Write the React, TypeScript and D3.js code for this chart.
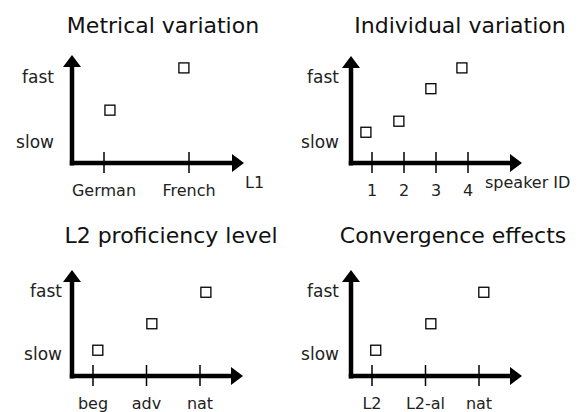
import React from 'react'
import * as d3 from 'd3'

// panel titles
const titles = ['Metrical variation', 'Individual variation', 'L2 proficiency level', 'Convergence effects']

// x categories per panel
const metricalCats = ['German', 'French']
const individualCats = ['1', '2', '3', '4']
const proficiencyCats = ['beg', 'adv', 'nat']
const convergenceCats = ['L2', 'L2-al', 'nat']

// x axis titles
const xTitles = ['L1', 'speaker ID', '', '']

// marker position along the category axis (category index, slightly off the tick)
const metricalPos = [0.07, 0.94]
const individualPos = [-0.19, 0.84, 1.84, 2.81]
const proficiencyPos = [0.09, 1.1, 2.11]
const convergencePos = [0.07, 1.1, 2.09]

// speech rate: 0 = slow, 1 = fast
const metricalSpeed = [0.49, 1.14]
const individualSpeed = [0.15, 0.32, 0.82, 1.14]
const proficiencySpeed = [0.06, 0.48, 0.98]
const convergenceSpeed = [0.06, 0.48, 0.98]

const speedLabels = ['slow', 'fast']

const FONT = '"DejaVu Sans", Verdana, sans-serif'

interface Layout {
  ox: number; oy: number; top: number; right: number
  t0: number; t1: number; slow: number; fast: number
  tx: number; ty: number; lx: number; xtx: number
}

const layouts: Layout[] = [
  { ox: 72, oy: 163, top: 55, right: 244, t0: 104, t1: 189, slow: 142, fast: 77, tx: 163, ty: 33, lx: 54, xtx: 245 },
  { ox: 351, oy: 163, top: 56, right: 522, t0: 372, t1: 468, slow: 142, fast: 77, tx: 460, ty: 33, lx: 339, xtx: 485 },
  { ox: 72, oy: 376, top: 270, right: 243, t0: 93, t1: 200, slow: 354, fast: 291, tx: 171, ty: 243, lx: 62, xtx: 0 },
  { ox: 351, oy: 376, top: 270, right: 522, t0: 372, t1: 479, slow: 354, fast: 291, tx: 453, ty: 243, lx: 339, xtx: 0 },
]

interface PanelProps {
  title: string
  cats: string[]
  pos: number[]
  speed: number[]
  xTitle: string
  L: Layout
}

const Panel = ({ title, cats, pos, speed, xTitle, L }: PanelProps) => {
  const x = d3.scaleLinear().domain([0, cats.length - 1]).range([L.t0, L.t1])
  const y = d3.scaleLinear().domain([0, 1]).range([L.slow, L.fast])
  const ah = 12 // arrow head length
  const aw = 9 // arrow head half width

  return (
    <g>
      <text x={L.tx} y={L.ty} textAnchor="middle" fontSize={22} fill="#111">{title}</text>

      {/* axes with arrow heads */}
      <line x1={L.ox} y1={L.oy + 2.5} x2={L.ox} y2={L.top + ah - 1} stroke="#000" strokeWidth={4.5} />
      <path d={`M${L.ox - aw},${L.top + ah}L${L.ox},${L.top}L${L.ox + aw},${L.top + ah}Z`} fill="#000" />
      <line x1={L.ox - 2.2} y1={L.oy} x2={L.right - ah + 1} y2={L.oy} stroke="#000" strokeWidth={4.5} />
      <path d={`M${L.right - ah},${L.oy - aw}L${L.right},${L.oy}L${L.right - ah},${L.oy + aw}Z`} fill="#000" />

      {/* ticks + category labels */}
      {cats.map((c, i) => (
        <g key={c}>
          <line x1={x(i)} x2={x(i)} y1={L.oy - 11} y2={L.oy + 10} stroke="#000" strokeWidth={1.5} />
          <text x={x(i)} y={L.oy + 33} textAnchor="middle" fontSize={16} fill="#222">{c}</text>
        </g>
      ))}

      {xTitle && (
        <text x={L.xtx} y={L.oy + 25} fontSize={16} fill="#222">{xTitle}</text>
      )}

      {/* slow / fast */}
      {speedLabels.map((s, i) => (
        <text key={s} x={L.lx} y={y(i) + 6} textAnchor="end" fontSize={17} fill="#222">{s}</text>
      ))}

      {/* markers */}
      {pos.map((p, i) => (
        <rect key={i} x={x(p) - 5} y={y(speed[i]) - 5} width={10} height={10}
          fill="#fff" stroke="#000" strokeWidth={1.3} />
      ))}
    </g>
  )
}

export default function App() {
  const cats = [metricalCats, individualCats, proficiencyCats, convergenceCats]
  const pos = [metricalPos, individualPos, proficiencyPos, convergencePos]
  const speed = [metricalSpeed, individualSpeed, proficiencySpeed, convergenceSpeed]

  return (
    <div style={{ position: 'absolute', left: 0, top: 0 }}>
      <svg width={580} height={412} style={{ display: 'block', background: '#fff', fontFamily: FONT }}>
        {titles.map((t, i) => (
          <Panel key={t} title={t} cats={cats[i]} pos={pos[i]} speed={speed[i]} xTitle={xTitles[i]} L={layouts[i]} />
        ))}
      </svg>
    </div>
  )
}
